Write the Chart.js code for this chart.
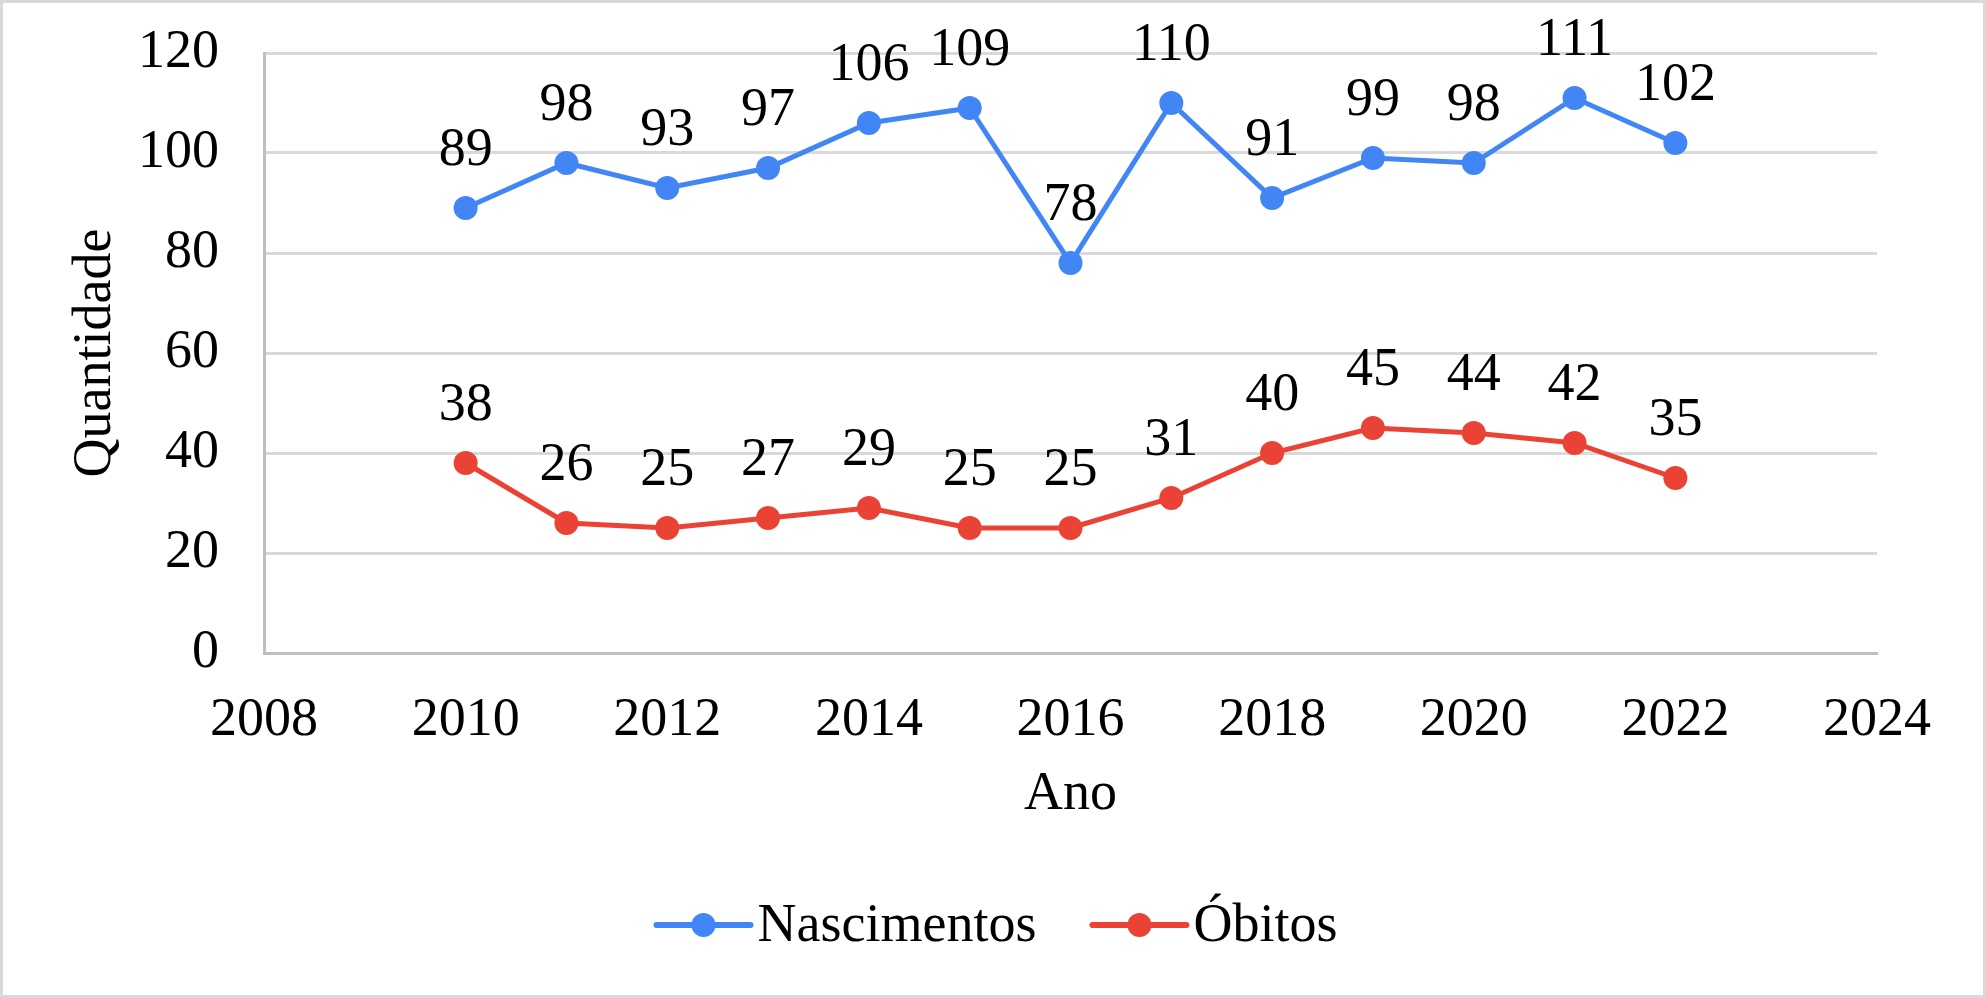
<!DOCTYPE html>
<html lang="pt">
<head>
    <meta charset="UTF-8">
    <title>Nascimentos e Óbitos</title>
    <style>
        body {
            margin: 0;
            background: #FFFFFF;
        }
        .chart-container {
            width: 1986px;
            height: 998px;
            position: relative;
        }
    </style>
</head>
<body>
    <div class="chart-container">
        <canvas id="popChart"></canvas>
    </div>

    <script src="https://cdn.jsdelivr.net/npm/chart.js"></script>
    <script>
        const years = [2010, 2011, 2012, 2013, 2014, 2015, 2016, 2017, 2018, 2019, 2020, 2021, 2022];
        const nascimentos = [89, 98, 93, 97, 106, 109, 78, 110, 91, 99, 98, 111, 102];
        const obitos = [38, 26, 25, 27, 29, 25, 25, 31, 40, 45, 44, 42, 35];
        const xTicks = [2008, 2010, 2012, 2014, 2016, 2018, 2020, 2022, 2024];
        const yTicks = [0, 20, 40, 60, 80, 100, 120];

        const FONT = '"Liberation Serif", "Times New Roman", serif';
        const FSIZE = 54;
        const BLUE = '#4285F4';
        const RED = '#EA4335';

        const toPoints = vals => vals.map((v, i) => ({ x: years[i], y: v }));

        // white background + light frame around the whole chart
        const framePlugin = {
            id: 'frame',
            beforeDraw(chart) {
                const c = chart.ctx;
                c.save();
                c.fillStyle = '#FFFFFF';
                c.fillRect(0, 0, chart.width, chart.height);
                c.strokeStyle = '#D9D9D9';
                c.lineWidth = 3;
                c.strokeRect(1.5, 1.5, chart.width - 3, chart.height - 3);
                c.restore();
            }
        };

        // value labels above each point
        const valueLabels = {
            id: 'valueLabels',
            afterDatasetsDraw(chart) {
                const c = chart.ctx;
                c.save();
                c.font = FSIZE + 'px ' + FONT;
                c.fillStyle = '#000000';
                c.textAlign = 'center';
                c.textBaseline = 'alphabetic';
                chart.data.datasets.forEach((ds, i) => {
                    chart.getDatasetMeta(i).data.forEach((pt, j) => {
                        c.fillText(String(ds.data[j].y), pt.x, pt.y - 43);
                    });
                });
                c.restore();
            }
        };

        // Excel-like legend: line with a marker in the middle
        const lineLegend = {
            id: 'lineLegend',
            afterDraw(chart) {
                const c = chart.ctx;
                const y = 925;
                const lineLen = 94, gap = 7, between = 56;
                c.save();
                c.font = FSIZE + 'px ' + FONT;
                const items = chart.data.datasets.map(ds => ({
                    text: ds.label, color: ds.borderColor, w: c.measureText(ds.label).width
                }));
                let total = 0;
                items.forEach((it, i) => { total += lineLen + gap + it.w + (i ? between : 0); });
                let x = (chart.width - total) / 2 + 4;
                items.forEach(it => {
                    c.strokeStyle = it.color;
                    c.lineWidth = 6;
                    c.lineCap = 'round';
                    c.beginPath();
                    c.moveTo(x, y);
                    c.lineTo(x + lineLen, y);
                    c.stroke();
                    c.fillStyle = it.color;
                    c.beginPath();
                    c.arc(x + lineLen / 2, y, 12, 0, Math.PI * 2);
                    c.fill();
                    c.fillStyle = '#000000';
                    c.textAlign = 'left';
                    c.textBaseline = 'middle';
                    c.fillText(it.text, x + lineLen + gap, y + 2);
                    x += lineLen + gap + it.w + between;
                });
                c.restore();
            }
        };

        const data = {
            datasets: [{
                label: 'Nascimentos',
                data: toPoints(nascimentos),
                borderColor: BLUE,
                backgroundColor: BLUE,
                borderWidth: 5,
                pointRadius: 12,
                pointBorderWidth: 0,
                pointHoverRadius: 12,
                tension: 0
            }, {
                label: 'Óbitos',
                data: toPoints(obitos),
                borderColor: RED,
                backgroundColor: RED,
                borderWidth: 5,
                pointRadius: 12,
                pointBorderWidth: 0,
                pointHoverRadius: 12,
                tension: 0
            }]
        };

        const config = {
            type: 'line',
            data: data,
            options: {
                responsive: true,
                maintainAspectRatio: false,
                animation: false,
                layout: {
                    padding: { left: 63, right: 109, top: 53, bottom: 171 }
                },
                plugins: {
                    legend: { display: false },
                    tooltip: { enabled: false }
                },
                scales: {
                    x: {
                        type: 'linear',
                        min: xTicks[0],
                        max: xTicks[xTicks.length - 1],
                        afterBuildTicks: scale => { scale.ticks = xTicks.map(v => ({ value: v })); },
                        afterFit: scale => { scale.height = 174; },
                        grid: { display: false, drawTicks: false },
                        border: { display: true, color: '#BFBFBF', width: 3 },
                        ticks: {
                            padding: 35,
                            color: '#000000',
                            font: { family: FONT, size: FSIZE },
                            callback: v => String(v)
                        },
                        title: {
                            display: true,
                            text: 'Ano',
                            color: '#000000',
                            font: { family: FONT, size: FSIZE },
                            padding: 0
                        }
                    },
                    y: {
                        min: yTicks[0],
                        max: yTicks[yTicks.length - 1],
                        afterBuildTicks: scale => { scale.ticks = yTicks.map(v => ({ value: v })); },
                        afterFit: scale => {
                            scale.width = 201;
                            scale.paddingTop = 0;
                            scale.paddingBottom = 0;
                        },
                        grid: { color: '#D9D9D9', lineWidth: 3, drawTicks: false },
                        border: { display: true, color: '#BFBFBF', width: 3 },
                        ticks: {
                            padding: 45,
                            color: '#000000',
                            font: { family: FONT, size: FSIZE }
                        },
                        title: {
                            display: true,
                            text: 'Quantidade',
                            color: '#000000',
                            font: { family: FONT, size: FSIZE },
                            padding: 0
                        }
                    }
                }
            },
            plugins: [framePlugin, valueLabels, lineLegend]
        };

        const popChart = new Chart(document.getElementById('popChart'), config);
    </script>
</body>
</html>
